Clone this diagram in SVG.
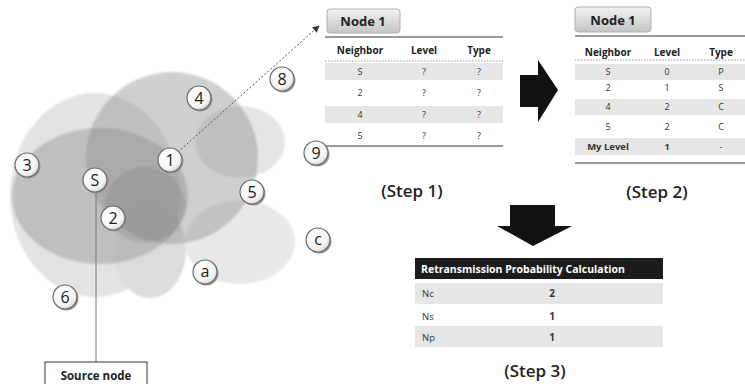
<svg xmlns="http://www.w3.org/2000/svg" width="745" height="384" viewBox="0 0 745 384">
<defs>
<radialGradient id="nodeFill" cx="40%" cy="35%" r="70%">
<stop offset="0" stop-color="#ffffff"/>
<stop offset="0.7" stop-color="#f4f4f4"/>
<stop offset="1" stop-color="#cfcfcf"/>
</radialGradient>
<linearGradient id="tabFill" x1="0" y1="0" x2="0" y2="1">
<stop offset="0" stop-color="#f2f2f2"/>
<stop offset="1" stop-color="#c4c4c4"/>
</linearGradient>
<filter id="soft" x="-20%" y="-20%" width="140%" height="140%">
<feGaussianBlur stdDeviation="1"/>
</filter>
<marker id="arrow" viewBox="0 0 10 10" refX="9" refY="5" markerWidth="7" markerHeight="7" orient="auto">
<path d="M0,0 L10,5 L0,10 z" fill="#333"/>
</marker>
</defs>
<style>
text{font-family:"Open Sans","Noto Sans","Liberation Sans",sans-serif;fill:#222}
.nc{fill:url(#nodeFill);stroke:#6a6a6a;stroke-width:1.2}
.ns{fill:#9a9a9a}
.nt{font-size:16px;text-anchor:middle;dominant-baseline:central;fill:#1a1a1a}
.hd{font-size:10px;font-weight:bold;text-anchor:middle}
.cell{font-size:9px;text-anchor:middle;fill:#333}
.step{font-size:17px;font-weight:600;text-anchor:middle}
.tab{fill:url(#tabFill);stroke:#b0b0b0;stroke-width:1}
.tabt{font-size:13px;font-weight:bold;text-anchor:middle}
.rule{stroke:#777;stroke-width:1.3}
.dots{stroke:#999;stroke-width:1;stroke-dasharray:1.5 1.5}
.band{fill:#e6e6e6}
.bigarrow{fill:#111}
</style>

<g id="coverage" filter="url(#soft)">
<ellipse cx="95" cy="195" rx="85" ry="102" fill="#e3e3e3"/>
<ellipse cx="240" cy="242" rx="55" ry="42" fill="#e8e8e8"/>
<ellipse cx="240" cy="142" rx="45" ry="36" fill="#e4e4e4"/>
<ellipse cx="150" cy="250" rx="36" ry="48" fill="#dcdcdc"/>
<ellipse cx="172" cy="158" rx="86" ry="86" fill="#8c8c8c" fill-opacity="0.42"/>
<ellipse cx="100" cy="196" rx="88" ry="68" fill="#8c8c8c" fill-opacity="0.42"/>
<ellipse cx="145" cy="205" rx="40" ry="38" fill="#707070" fill-opacity="0.22"/>
</g>

<g id="connectors">
<line x1="178" y1="152" x2="319" y2="26" style="stroke:#555;stroke-width:1;stroke-dasharray:2 2" marker-end="url(#arrow)"/>
<line x1="96" y1="190" x2="96" y2="362" stroke="#777" stroke-width="1"/>
</g>

<g id="node-8"><circle class="ns" cx="283.5" cy="80.5" r="12"/><circle class="nc" cx="282" cy="79" r="12"/><text class="nt" x="282" y="79">8</text></g>
<g id="node-4"><circle class="ns" cx="200.5" cy="99.5" r="12"/><circle class="nc" cx="199" cy="98" r="12"/><text class="nt" x="199" y="98">4</text></g>
<g id="node-1"><circle class="ns" cx="171.5" cy="161.5" r="12"/><circle class="nc" cx="170" cy="160" r="12"/><text class="nt" x="170" y="160">1</text></g>
<g id="node-3"><circle class="ns" cx="28.5" cy="166.5" r="12"/><circle class="nc" cx="27" cy="165" r="12"/><text class="nt" x="27" y="165">3</text></g>
<g id="node-S"><circle class="ns" cx="96.5" cy="181.5" r="12"/><circle class="nc" cx="95" cy="180" r="12"/><text class="nt" x="95" y="180">S</text></g>
<g id="node-2"><circle class="ns" cx="114.5" cy="219.5" r="12"/><circle class="nc" cx="113" cy="218" r="12"/><text class="nt" x="113" y="218">2</text></g>
<g id="node-5"><circle class="ns" cx="253.5" cy="193.5" r="12"/><circle class="nc" cx="252" cy="192" r="12"/><text class="nt" x="252" y="192">5</text></g>
<g id="node-9"><circle class="ns" cx="317.5" cy="154.5" r="12"/><circle class="nc" cx="316" cy="153" r="12"/><text class="nt" x="316" y="153">9</text></g>
<g id="node-c"><circle class="ns" cx="319.5" cy="241.5" r="12"/><circle class="nc" cx="318" cy="240" r="12"/><text class="nt" x="318" y="239">c</text></g>
<g id="node-a"><circle class="ns" cx="206.5" cy="273.5" r="12"/><circle class="nc" cx="205" cy="272" r="12"/><text class="nt" x="205" y="271">a</text></g>
<g id="node-6"><circle class="ns" cx="66.5" cy="298.5" r="12"/><circle class="nc" cx="65" cy="297" r="12"/><text class="nt" x="65" y="297">6</text></g>

<g id="source-node">
<rect x="45" y="362" width="102" height="26" fill="#fff" stroke="#333" stroke-width="1"/>
<text x="96" y="380" style="font-size:11.5px;font-weight:bold;text-anchor:middle">Source node</text>
</g>

<g id="step1-table">
<rect class="tab" x="327" y="9" width="73" height="24" rx="3"/>
<text class="tabt" x="363" y="26">Node 1</text>
<rect class="band" x="325" y="63" width="178" height="17"/>
<rect class="band" x="325" y="106" width="178" height="17"/>
<line class="rule" x1="325" y1="37" x2="503" y2="37"/>
<text class="hd" x="360" y="54">Neighbor</text>
<text class="hd" x="424" y="54">Level</text>
<text class="hd" x="479" y="54">Type</text>
<line class="dots" x1="325" y1="61" x2="503" y2="61"/>
<text class="cell" x="360" y="75">S</text><text class="cell" x="424" y="75">?</text><text class="cell" x="479" y="75">?</text>
<text class="cell" x="360" y="96">2</text><text class="cell" x="424" y="96">?</text><text class="cell" x="479" y="96">?</text>
<text class="cell" x="360" y="118">4</text><text class="cell" x="424" y="118">?</text><text class="cell" x="479" y="118">?</text>
<text class="cell" x="360" y="139">5</text><text class="cell" x="424" y="139">?</text><text class="cell" x="479" y="139">?</text>
<line class="rule" x1="325" y1="146" x2="503" y2="146"/>
<text class="step" x="412" y="197">(Step 1)</text>
</g>

<g id="arrow-right">
<path class="bigarrow" d="M520,75 L538,75 L538,60 L558,90 L538,122 L538,107 L520,107 Z"/>
</g>

<g id="step2-table">
<rect class="tab" x="575" y="7" width="76" height="25" rx="3"/>
<text class="tabt" x="613" y="25">Node 1</text>
<rect class="band" x="575" y="64" width="170" height="16"/>
<rect class="band" x="575" y="99" width="170" height="16"/>
<rect class="band" x="575" y="138" width="170" height="17"/>
<line class="rule" x1="575" y1="36" x2="745" y2="36"/>
<text class="hd" x="608" y="56">Neighbor</text>
<text class="hd" x="667" y="56">Level</text>
<text class="hd" x="721" y="56">Type</text>
<line class="dots" x1="575" y1="60" x2="745" y2="60"/>
<text class="cell" x="608" y="75">S</text><text class="cell" x="667" y="75">0</text><text class="cell" x="721" y="75">P</text>
<text class="cell" x="608" y="91">2</text><text class="cell" x="667" y="91">1</text><text class="cell" x="721" y="91">S</text>
<text class="cell" x="608" y="110">4</text><text class="cell" x="667" y="110">2</text><text class="cell" x="721" y="110">C</text>
<text class="cell" x="608" y="130">5</text><text class="cell" x="667" y="130">2</text><text class="cell" x="721" y="130">C</text>
<text class="cell" x="608" y="150" style="font-weight:bold;font-size:9.5px">My Level</text><text class="cell" x="667" y="150" style="font-weight:bold">1</text><text class="cell" x="721" y="150">-</text>
<line class="rule" x1="575" y1="163" x2="745" y2="163"/>
<text class="step" x="657" y="198">(Step 2)</text>
</g>

<g id="arrow-down">
<path class="bigarrow" d="M510,205 L555,205 L555,226 L572,226 L533,246 L497,226 L510,226 Z"/>
</g>

<g id="step3-table">
<rect x="415" y="258" width="248" height="21" fill="#1c1c1c"/>
<text x="421" y="273" style="font-size:10.5px;font-weight:bold;fill:#fff">Retransmission Probability Calculation</text>
<rect class="band" x="415" y="283" width="248" height="21"/>
<rect class="band" x="415" y="326" width="248" height="21"/>
<text x="422" y="297" style="font-size:9.5px;fill:#333">Nc</text><text class="cell" x="552" y="297" style="font-size:10px;font-weight:bold">2</text>
<text x="422" y="320" style="font-size:9.5px;fill:#333">Ns</text><text class="cell" x="552" y="320" style="font-size:10px;font-weight:bold">1</text>
<text x="422" y="341" style="font-size:9.5px;fill:#333">Np</text><text class="cell" x="552" y="341" style="font-size:10px;font-weight:bold">1</text>
<text class="step" x="535" y="377">(Step 3)</text>
</g>
</svg>
